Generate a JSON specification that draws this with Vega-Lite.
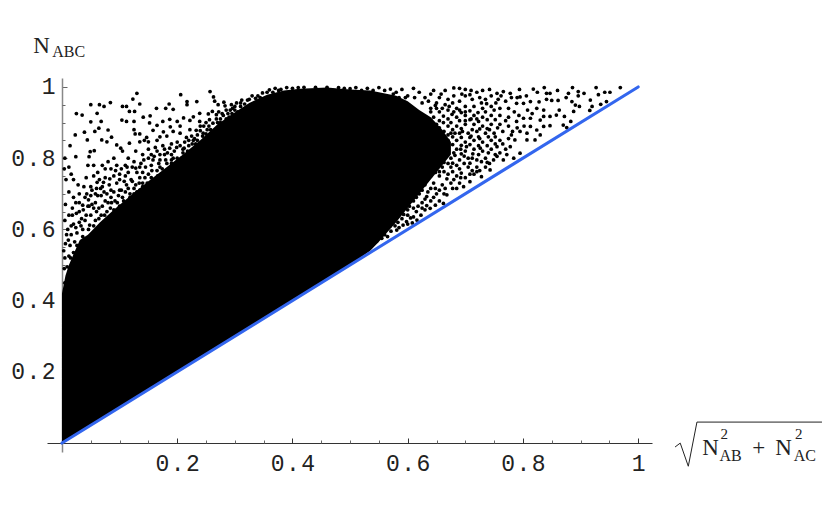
{"$schema":"https://vega.github.io/schema/vega-lite/v6.json","width":605,"height":374,"autosize":"none","padding":{"left":47,"top":78,"right":179,"bottom":67},"background":"white","view":{"stroke":null},
"resolve":{"axis":{"x":"independent","y":"independent"}},
"datasets":{"region":[{"x":0,"lo":0,"hi":0.42},{"x":0.006,"lo":0.006,"hi":0.47},{"x":0.012,"lo":0.012,"hi":0.5},{"x":0.02,"lo":0.02,"hi":0.53},{"x":0.031,"lo":0.031,"hi":0.57},{"x":0.045,"lo":0.045,"hi":0.585},{"x":0.066,"lo":0.066,"hi":0.62},{"x":0.09,"lo":0.09,"hi":0.655},{"x":0.123,"lo":0.123,"hi":0.7},{"x":0.15,"lo":0.15,"hi":0.735},{"x":0.182,"lo":0.182,"hi":0.775},{"x":0.21,"lo":0.21,"hi":0.81},{"x":0.24,"lo":0.24,"hi":0.85},{"x":0.27,"lo":0.27,"hi":0.895},{"x":0.297,"lo":0.297,"hi":0.925},{"x":0.325,"lo":0.325,"hi":0.955},{"x":0.356,"lo":0.356,"hi":0.978},{"x":0.385,"lo":0.385,"hi":0.99},{"x":0.413,"lo":0.413,"hi":0.995},{"x":0.46,"lo":0.46,"hi":0.998},{"x":0.5,"lo":0.5,"hi":0.993},{"x":0.535,"lo":0.54,"hi":0.99},{"x":0.55,"lo":0.565,"hi":0.985},{"x":0.58,"lo":0.62,"hi":0.975},{"x":0.6,"lo":0.66,"hi":0.96},{"x":0.62,"lo":0.7,"hi":0.935},{"x":0.64,"lo":0.74,"hi":0.915},{"x":0.66,"lo":0.78,"hi":0.88},{"x":0.675,"lo":0.81,"hi":0.845}],
"pts":[{"x":0.05,"y":0.95},{"x":0.065,"y":0.95},{"x":0.073,"y":0.945},{"x":0.084,"y":0.956},{"x":0.025,"y":0.925},{"x":0.035,"y":0.921},{"x":0.061,"y":0.926},{"x":0.068,"y":0.903},{"x":0.05,"y":0.902},{"x":0.064,"y":0.884},{"x":0.057,"y":0.875},{"x":0.039,"y":0.873},{"x":0.023,"y":0.865},{"x":0.08,"y":0.879},{"x":0.014,"y":0.835},{"x":0.044,"y":0.851},{"x":0.069,"y":0.851},{"x":0.078,"y":0.846},{"x":0.086,"y":0.859},{"x":0.049,"y":0.818},{"x":0.056,"y":0.821},{"x":0.024,"y":0.804},{"x":0.047,"y":0.804},{"x":0.095,"y":0.837},{"x":0.102,"y":0.828},{"x":0.117,"y":0.842},{"x":0.105,"y":0.945},{"x":0.112,"y":0.945},{"x":0.123,"y":0.966},{"x":0.13,"y":0.982},{"x":0.135,"y":0.952},{"x":0.117,"y":0.931},{"x":0.126,"y":0.931},{"x":0.104,"y":0.907},{"x":0.112,"y":0.903},{"x":0.125,"y":0.903},{"x":0.141,"y":0.915},{"x":0.153,"y":0.919},{"x":0.164,"y":0.94},{"x":0.18,"y":0.94},{"x":0.186,"y":0.952},{"x":0.193,"y":0.937},{"x":0.206,"y":0.978},{"x":0.217,"y":0.959},{"x":0.234,"y":0.959},{"x":0.217,"y":0.95},{"x":0.257,"y":0.987},{"x":0.263,"y":0.972},{"x":0.281,"y":0.957},{"x":0.271,"y":0.95},{"x":0.261,"y":0.931},{"x":0.239,"y":0.926},{"x":0.254,"y":0.924},{"x":0.228,"y":0.916},{"x":0.211,"y":0.913},{"x":0.187,"y":0.909},{"x":0.175,"y":0.903},{"x":0.2,"y":0.903},{"x":0.222,"y":0.906},{"x":0.239,"y":0.903},{"x":0.152,"y":0.899},{"x":0.165,"y":0.892},{"x":0.176,"y":0.874},{"x":0.188,"y":0.888},{"x":0.205,"y":0.89},{"x":0.222,"y":0.88},{"x":0.24,"y":0.877},{"x":0.125,"y":0.88},{"x":0.127,"y":0.868},{"x":0.135,"y":0.868},{"x":0.147,"y":0.858},{"x":0.158,"y":0.878},{"x":0.17,"y":0.86},{"x":0.182,"y":0.862},{"x":0.143,"y":0.85},{"x":0.15,"y":0.846},{"x":0.135,"y":0.846},{"x":0.165,"y":0.85},{"x":0.193,"y":0.875},{"x":0.205,"y":0.87},{"x":0.216,"y":0.858},{"x":0.228,"y":0.85},{"x":0.25,"y":0.868},{"x":0.262,"y":0.898},{"x":0.275,"y":0.91},{"x":0.285,"y":0.935},{"x":0.296,"y":0.94},{"x":0.303,"y":0.955},{"x":0.312,"y":0.963},{"x":0.322,"y":0.963},{"x":0.33,"y":0.975},{"x":0.34,"y":0.975},{"x":0.348,"y":0.983},{"x":0.352,"y":0.965},{"x":0.36,"y":0.992},{"x":0.37,"y":0.996},{"x":0.38,"y":0.993},{"x":0.39,"y":0.998},{"x":0.4,"y":0.996},{"x":0.41,"y":0.998},{"x":0.42,"y":0.999},{"x":0.44,"y":0.999},{"x":0.46,"y":0.999},{"x":0.48,"y":0.998},{"x":0.49,"y":0.996},{"x":0.5,"y":0.995},{"x":0.51,"y":0.998},{"x":0.52,"y":0.99},{"x":0.53,"y":0.996},{"x":0.54,"y":0.99},{"x":0.55,"y":0.998},{"x":0.56,"y":0.99},{"x":0.57,"y":0.994},{"x":0.58,"y":0.985},{"x":0.59,"y":0.993},{"x":0.6,"y":0.975},{"x":0.61,"y":0.996},{"x":0.62,"y":0.985},{"x":0.63,"y":0.97},{"x":0.64,"y":0.98},{"x":0.645,"y":0.99},{"x":0.655,"y":0.97},{"x":0.665,"y":0.99},{"x":0.67,"y":0.965},{"x":0.68,"y":0.997},{"x":0.69,"y":0.996},{"x":0.7,"y":0.993},{"x":0.71,"y":0.99},{"x":0.72,"y":0.985},{"x":0.73,"y":0.99},{"x":0.742,"y":0.993},{"x":0.755,"y":0.982},{"x":0.766,"y":0.987},{"x":0.778,"y":0.982},{"x":0.969,"y":0.998},{"x":0.951,"y":0.985},{"x":0.942,"y":0.985},{"x":0.927,"y":0.998},{"x":0.931,"y":0.978},{"x":0.945,"y":0.959},{"x":0.935,"y":0.951},{"x":0.917,"y":0.963},{"x":0.92,"y":0.945},{"x":0.916,"y":0.934},{"x":0.906,"y":0.982},{"x":0.896,"y":0.987},{"x":0.896,"y":0.975},{"x":0.886,"y":0.998},{"x":0.879,"y":0.982},{"x":0.875,"y":0.97},{"x":0.885,"y":0.959},{"x":0.891,"y":0.949},{"x":0.898,"y":0.945},{"x":0.888,"y":0.931},{"x":0.86,"y":0.99},{"x":0.837,"y":0.998},{"x":0.818,"y":0.994},{"x":0.794,"y":0.993},{"x":0.841,"y":0.982},{"x":0.847,"y":0.982},{"x":0.825,"y":0.985},{"x":0.861,"y":0.962},{"x":0.85,"y":0.962},{"x":0.841,"y":0.965},{"x":0.863,"y":0.935},{"x":0.858,"y":0.921},{"x":0.872,"y":0.917},{"x":0.883,"y":0.903},{"x":0.87,"y":0.893},{"x":0.876,"y":0.886},{"x":0.847,"y":0.917},{"x":0.836,"y":0.917},{"x":0.83,"y":0.907},{"x":0.847,"y":0.891},{"x":0.836,"y":0.889},{"x":0.824,"y":0.879},{"x":0.813,"y":0.889},{"x":0.807,"y":0.87},{"x":0.83,"y":0.865},{"x":0.821,"y":0.851},{"x":0.807,"y":0.851},{"x":0.795,"y":0.875},{"x":0.786,"y":0.851},{"x":0.813,"y":0.912},{"x":0.801,"y":0.912},{"x":0.789,"y":0.903},{"x":0.836,"y":0.935},{"x":0.824,"y":0.94},{"x":0.813,"y":0.959},{"x":0.801,"y":0.954},{"x":0.789,"y":0.954},{"x":0.795,"y":0.814},{"x":0.778,"y":0.832},{"x":0.784,"y":0.8},{"x":0.766,"y":0.795},{"x":0.755,"y":0.832},{"x":0.749,"y":0.795},{"x":0.743,"y":0.767},{"x":0.728,"y":0.748},{"x":0.72,"y":0.762},{"x":0.708,"y":0.734},{"x":0.697,"y":0.72},{"x":0.685,"y":0.715},{"x":0.668,"y":0.697},{"x":0.662,"y":0.673},{"x":0.639,"y":0.659},{"x":0.616,"y":0.626},{"x":0.581,"y":0.598},{"x":0.546,"y":0.566},{"x":0.78,"y":0.97},{"x":0.77,"y":0.96},{"x":0.757,"y":0.965},{"x":0.745,"y":0.975},{"x":0.735,"y":0.965},{"x":0.725,"y":0.97},{"x":0.712,"y":0.965},{"x":0.7,"y":0.975},{"x":0.69,"y":0.96},{"x":0.68,"y":0.975},{"x":0.665,"y":0.95},{"x":0.65,"y":0.955},{"x":0.64,"y":0.94},{"x":0.655,"y":0.93},{"x":0.67,"y":0.935},{"x":0.685,"y":0.94},{"x":0.7,"y":0.945},{"x":0.715,"y":0.945},{"x":0.73,"y":0.94},{"x":0.745,"y":0.945},{"x":0.76,"y":0.94},{"x":0.775,"y":0.94},{"x":0.785,"y":0.93},{"x":0.775,"y":0.915},{"x":0.76,"y":0.92},{"x":0.745,"y":0.92},{"x":0.73,"y":0.915},{"x":0.715,"y":0.92},{"x":0.7,"y":0.92},{"x":0.685,"y":0.915},{"x":0.67,"y":0.91},{"x":0.655,"y":0.905},{"x":0.645,"y":0.915},{"x":0.64,"y":0.89},{"x":0.655,"y":0.885},{"x":0.67,"y":0.89},{"x":0.685,"y":0.89},{"x":0.7,"y":0.895},{"x":0.715,"y":0.895},{"x":0.73,"y":0.89},{"x":0.745,"y":0.895},{"x":0.76,"y":0.895},{"x":0.775,"y":0.89},{"x":0.79,"y":0.885},{"x":0.765,"y":0.875},{"x":0.75,"y":0.87},{"x":0.735,"y":0.87},{"x":0.72,"y":0.875},{"x":0.705,"y":0.87},{"x":0.69,"y":0.87},{"x":0.675,"y":0.87},{"x":0.66,"y":0.865},{"x":0.645,"y":0.865},{"x":0.635,"y":0.86},{"x":0.64,"y":0.84},{"x":0.655,"y":0.845},{"x":0.67,"y":0.85},{"x":0.685,"y":0.85},{"x":0.7,"y":0.845},{"x":0.715,"y":0.85},{"x":0.73,"y":0.845},{"x":0.745,"y":0.85},{"x":0.76,"y":0.85},{"x":0.775,"y":0.855},{"x":0.77,"y":0.825},{"x":0.745,"y":0.825},{"x":0.73,"y":0.82},{"x":0.715,"y":0.825},{"x":0.7,"y":0.82},{"x":0.685,"y":0.825},{"x":0.67,"y":0.825},{"x":0.655,"y":0.82},{"x":0.64,"y":0.815},{"x":0.625,"y":0.82},{"x":0.63,"y":0.795},{"x":0.645,"y":0.795},{"x":0.66,"y":0.8},{"x":0.675,"y":0.8},{"x":0.69,"y":0.795},{"x":0.705,"y":0.8},{"x":0.72,"y":0.795},{"x":0.735,"y":0.8},{"x":0.755,"y":0.805},{"x":0.735,"y":0.775},{"x":0.72,"y":0.775},{"x":0.705,"y":0.775},{"x":0.69,"y":0.77},{"x":0.675,"y":0.775},{"x":0.66,"y":0.775},{"x":0.645,"y":0.77},{"x":0.63,"y":0.77},{"x":0.615,"y":0.775},{"x":0.61,"y":0.75},{"x":0.625,"y":0.75},{"x":0.64,"y":0.75},{"x":0.655,"y":0.75},{"x":0.67,"y":0.755},{"x":0.685,"y":0.75},{"x":0.7,"y":0.745},{"x":0.715,"y":0.755},{"x":0.6,"y":0.725},{"x":0.615,"y":0.725},{"x":0.63,"y":0.725},{"x":0.645,"y":0.73},{"x":0.66,"y":0.725},{"x":0.675,"y":0.73},{"x":0.69,"y":0.73},{"x":0.59,"y":0.7},{"x":0.605,"y":0.7},{"x":0.62,"y":0.7},{"x":0.635,"y":0.705},{"x":0.65,"y":0.7},{"x":0.665,"y":0.715},{"x":0.58,"y":0.675},{"x":0.595,"y":0.675},{"x":0.61,"y":0.68},{"x":0.625,"y":0.675},{"x":0.64,"y":0.68},{"x":0.655,"y":0.68},{"x":0.57,"y":0.65},{"x":0.585,"y":0.65},{"x":0.6,"y":0.655},{"x":0.615,"y":0.65},{"x":0.63,"y":0.655},{"x":0.56,"y":0.625},{"x":0.575,"y":0.63},{"x":0.59,"y":0.63},{"x":0.605,"y":0.632},{"x":0.552,"y":0.6},{"x":0.565,"y":0.605},{"x":0.578,"y":0.61},{"x":0.592,"y":0.612},{"x":0.56,"y":0.585},{"x":0.571,"y":0.595},{"x":0.005,"y":0.8},{"x":0.012,"y":0.775},{"x":0.004,"y":0.77},{"x":0.016,"y":0.755},{"x":0.007,"y":0.74},{"x":0.02,"y":0.74},{"x":0.028,"y":0.725},{"x":0.038,"y":0.72},{"x":0.05,"y":0.72},{"x":0.062,"y":0.76},{"x":0.07,"y":0.78},{"x":0.08,"y":0.79},{"x":0.09,"y":0.8},{"x":0.105,"y":0.82},{"x":0.115,"y":0.8},{"x":0.128,"y":0.82},{"x":0.14,"y":0.81},{"x":0.15,"y":0.825},{"x":0.162,"y":0.83},{"x":0.175,"y":0.835},{"x":0.19,"y":0.84},{"x":0.205,"y":0.835},{"x":0.22,"y":0.835},{"x":0.235,"y":0.85},{"x":0.25,"y":0.84},{"x":0.045,"y":0.78},{"x":0.055,"y":0.78},{"x":0.075,"y":0.77},{"x":0.085,"y":0.77},{"x":0.095,"y":0.78},{"x":0.11,"y":0.78},{"x":0.125,"y":0.79},{"x":0.137,"y":0.785},{"x":0.15,"y":0.8},{"x":0.16,"y":0.805},{"x":0.17,"y":0.81},{"x":0.183,"y":0.815},{"x":0.195,"y":0.82},{"x":0.21,"y":0.815},{"x":0.03,"y":0.7},{"x":0.042,"y":0.745},{"x":0.055,"y":0.75},{"x":0.065,"y":0.74},{"x":0.075,"y":0.745},{"x":0.09,"y":0.75},{"x":0.1,"y":0.755},{"x":0.115,"y":0.76},{"x":0.13,"y":0.76},{"x":0.145,"y":0.775},{"x":0.155,"y":0.78},{"x":0.168,"y":0.785},{"x":0.18,"y":0.795},{"x":0.193,"y":0.8},{"x":0.012,"y":0.705},{"x":0.02,"y":0.69},{"x":0.03,"y":0.675},{"x":0.04,"y":0.69},{"x":0.05,"y":0.695},{"x":0.06,"y":0.715},{"x":0.07,"y":0.72},{"x":0.082,"y":0.725},{"x":0.095,"y":0.73},{"x":0.108,"y":0.735},{"x":0.12,"y":0.74},{"x":0.135,"y":0.745},{"x":0.15,"y":0.755},{"x":0.165,"y":0.765},{"x":0.006,"y":0.67},{"x":0.018,"y":0.66},{"x":0.025,"y":0.645},{"x":0.037,"y":0.655},{"x":0.047,"y":0.665},{"x":0.058,"y":0.675},{"x":0.068,"y":0.695},{"x":0.078,"y":0.7},{"x":0.09,"y":0.705},{"x":0.103,"y":0.71},{"x":0.115,"y":0.715},{"x":0.128,"y":0.725},{"x":0.14,"y":0.73},{"x":0.005,"y":0.625},{"x":0.012,"y":0.64},{"x":0.02,"y":0.615},{"x":0.03,"y":0.62},{"x":0.04,"y":0.625},{"x":0.05,"y":0.64},{"x":0.06,"y":0.65},{"x":0.07,"y":0.665},{"x":0.08,"y":0.675},{"x":0.092,"y":0.68},{"x":0.105,"y":0.69},{"x":0.118,"y":0.7},{"x":0.01,"y":0.6},{"x":0.016,"y":0.585},{"x":0.026,"y":0.59},{"x":0.036,"y":0.6},{"x":0.048,"y":0.612},{"x":0.058,"y":0.625},{"x":0.068,"y":0.64},{"x":0.078,"y":0.65},{"x":0.09,"y":0.655},{"x":0.1,"y":0.665},{"x":0.006,"y":0.56},{"x":0.014,"y":0.555},{"x":0.022,"y":0.565},{"x":0.005,"y":0.52},{"x":0.012,"y":0.525},{"x":0.02,"y":0.535},{"x":0.004,"y":0.49},{"x":0.009,"y":0.495},{"x":0.005,"y":0.45},{"x":0.265,"y":0.96},{"x":0.272,"y":0.93},{"x":0.28,"y":0.92},{"x":0.29,"y":0.915},{"x":0.27,"y":0.9},{"x":0.258,"y":0.88},{"x":0.27,"y":0.885},{"x":0.28,"y":0.895},{"x":0.235,"y":0.865},{"x":0.248,"y":0.855},{"x":0.258,"y":0.855},{"x":0.265,"y":0.87},{"x":0.24,"y":0.84},{"x":0.23,"y":0.825},{"x":0.215,"y":0.8},{"x":0.205,"y":0.785},{"x":0.195,"y":0.78},{"x":0.185,"y":0.77},{"x":0.172,"y":0.755},{"x":0.16,"y":0.74},{"x":0.148,"y":0.73},{"x":0.135,"y":0.71},{"x":0.125,"y":0.7},{"x":0.31,"y":0.945},{"x":0.32,"y":0.94},{"x":0.33,"y":0.95},{"x":0.34,"y":0.96},{"x":0.295,"y":0.925},{"x":0.305,"y":0.93},{"x":0.315,"y":0.925},{"x":0.648,"y":0.948},{"x":0.662,"y":0.918},{"x":0.677,"y":0.923},{"x":0.693,"y":0.928},{"x":0.708,"y":0.933},{"x":0.722,"y":0.928},{"x":0.737,"y":0.953},{"x":0.752,"y":0.908},{"x":0.663,"y":0.875},{"x":0.678,"y":0.88},{"x":0.693,"y":0.883},{"x":0.708,"y":0.908},{"x":0.723,"y":0.903},{"x":0.738,"y":0.908},{"x":0.648,"y":0.855},{"x":0.663,"y":0.838},{"x":0.678,"y":0.86},{"x":0.693,"y":0.858},{"x":0.708,"y":0.858},{"x":0.723,"y":0.86},{"x":0.738,"y":0.883},{"x":0.648,"y":0.828},{"x":0.663,"y":0.812},{"x":0.678,"y":0.838},{"x":0.693,"y":0.836},{"x":0.708,"y":0.838},{"x":0.723,"y":0.835},{"x":0.738,"y":0.835},{"x":0.633,"y":0.785},{"x":0.648,"y":0.785},{"x":0.663,"y":0.788},{"x":0.678,"y":0.786},{"x":0.693,"y":0.812},{"x":0.708,"y":0.786},{"x":0.723,"y":0.81},{"x":0.738,"y":0.788},{"x":0.618,"y":0.762},{"x":0.633,"y":0.738},{"x":0.648,"y":0.76},{"x":0.663,"y":0.762},{"x":0.678,"y":0.762},{"x":0.693,"y":0.758},{"x":0.708,"y":0.755},{"x":0.603,"y":0.712},{"x":0.618,"y":0.714},{"x":0.633,"y":0.692},{"x":0.648,"y":0.715},{"x":0.663,"y":0.7},{"x":0.678,"y":0.715},{"x":0.588,"y":0.688},{"x":0.603,"y":0.665},{"x":0.618,"y":0.665},{"x":0.633,"y":0.667},{"x":0.648,"y":0.668},{"x":0.578,"y":0.64},{"x":0.593,"y":0.642},{"x":0.608,"y":0.618},{"x":0.623,"y":0.64},{"x":0.568,"y":0.618},{"x":0.583,"y":0.62},{"x":0.598,"y":0.622},{"x":0.555,"y":0.575},{"x":0.565,"y":0.58},{"x":0.538,"y":0.555},{"x":0.525,"y":0.54},{"x":0.51,"y":0.522},{"x":0.475,"y":0.49},{"x":0.441,"y":0.452},{"x":0.39,"y":0.402},{"x":0.77,"y":0.905},{"x":0.782,"y":0.875},{"x":0.793,"y":0.92},{"x":0.802,"y":0.89},{"x":0.78,"y":0.865},{"x":0.765,"y":0.84},{"x":0.752,"y":0.81},{"x":0.76,"y":0.815},{"x":0.772,"y":0.81},{"x":0.808,"y":0.935},{"x":0.816,"y":0.925},{"x":0.795,"y":0.972},{"x":0.806,"y":0.975},{"x":0.828,"y":0.958},{"x":0.79,"y":0.97},{"x":0.753,"y":0.955},{"x":0.762,"y":0.975},{"x":0.728,"y":0.955},{"x":0.708,"y":0.978},{"x":0.694,"y":0.98},{"x":0.678,"y":0.955},{"x":0.658,"y":0.98},{"x":0.636,"y":0.96},{"x":0.625,"y":0.955},{"x":0.612,"y":0.97},{"x":0.596,"y":0.97},{"x":0.585,"y":0.97},{"x":0.575,"y":0.98},{"x":0.062,"y":0.695},{"x":0.052,"y":0.67},{"x":0.042,"y":0.64},{"x":0.034,"y":0.63},{"x":0.024,"y":0.605},{"x":0.016,"y":0.61},{"x":0.008,"y":0.585},{"x":0.003,"y":0.54},{"x":0.015,"y":0.52},{"x":0.026,"y":0.555},{"x":0.036,"y":0.58},{"x":0.046,"y":0.6},{"x":0.055,"y":0.61},{"x":0.064,"y":0.63},{"x":0.074,"y":0.64},{"x":0.084,"y":0.66},{"x":0.096,"y":0.675},{"x":0.11,"y":0.705},{"x":0.098,"y":0.695},{"x":0.112,"y":0.725},{"x":0.125,"y":0.715},{"x":0.122,"y":0.735},{"x":0.134,"y":0.73},{"x":0.144,"y":0.745},{"x":0.156,"y":0.765},{"x":0.166,"y":0.75},{"x":0.174,"y":0.77},{"x":0.182,"y":0.785},{"x":0.19,"y":0.795},{"x":0.2,"y":0.8},{"x":0.208,"y":0.8},{"x":0.218,"y":0.82},{"x":0.226,"y":0.84},{"x":0.232,"y":0.84},{"x":0.244,"y":0.862},{"x":0.252,"y":0.88},{"x":0.26,"y":0.87},{"x":0.268,"y":0.91},{"x":0.278,"y":0.925},{"x":0.288,"y":0.925},{"x":0.3,"y":0.945},{"x":0.31,"y":0.955},{"x":0.325,"y":0.965},{"x":0.336,"y":0.968},{"x":0.344,"y":0.97},{"x":0.356,"y":0.985},{"x":0.366,"y":0.985},{"x":0.376,"y":0.99},{"x":0.1,"y":0.71},{"x":0.085,"y":0.69},{"x":0.073,"y":0.705},{"x":0.085,"y":0.71},{"x":0.1,"y":0.74},{"x":0.11,"y":0.75},{"x":0.122,"y":0.775},{"x":0.135,"y":0.775},{"x":0.14,"y":0.76},{"x":0.158,"y":0.795},{"x":0.17,"y":0.795},{"x":0.178,"y":0.81},{"x":0.19,"y":0.81},{"x":0.2,"y":0.845},{"x":0.213,"y":0.845},{"x":0.22,"y":0.85},{"x":0.24,"y":0.89},{"x":0.25,"y":0.9},{"x":0.03,"y":0.65},{"x":0.043,"y":0.7},{"x":0.058,"y":0.7},{"x":0.067,"y":0.715},{"x":0.045,"y":0.665},{"x":0.055,"y":0.66},{"x":0.018,"y":0.64},{"x":0.033,"y":0.61},{"x":0.011,"y":0.57},{"x":0.024,"y":0.675},{"x":0.036,"y":0.668},{"x":0.046,"y":0.683},{"x":0.052,"y":0.71},{"x":0.061,"y":0.732},{"x":0.072,"y":0.732},{"x":0.083,"y":0.742},{"x":0.093,"y":0.765},{"x":0.103,"y":0.77},{"x":0.113,"y":0.775},{"x":0.128,"y":0.772},{"x":0.142,"y":0.795},{"x":0.155,"y":0.81},{"x":0.165,"y":0.82},{"x":0.178,"y":0.825},{"x":0.187,"y":0.828},{"x":0.199,"y":0.83},{"x":0.212,"y":0.828},{"x":0.225,"y":0.862},{"x":0.233,"y":0.878},{"x":0.246,"y":0.89},{"x":0.256,"y":0.908},{"x":0.268,"y":0.922},{"x":0.283,"y":0.947},{"x":0.294,"y":0.95},{"x":0.064,"y":0.66},{"x":0.075,"y":0.68},{"x":0.086,"y":0.675},{"x":0.107,"y":0.68},{"x":0.118,"y":0.69},{"x":0.13,"y":0.705},{"x":0.14,"y":0.72},{"x":0.155,"y":0.745},{"x":0.17,"y":0.775},{"x":0.19,"y":0.785},{"x":0.2,"y":0.79},{"x":0.21,"y":0.825},{"x":0.23,"y":0.855},{"x":0.245,"y":0.87},{"x":0.255,"y":0.89},{"x":0.275,"y":0.9},{"x":0.285,"y":0.91},{"x":0.292,"y":0.935},{"x":0.3,"y":0.935},{"x":0.317,"y":0.952},{"x":0.64,"y":0.93},{"x":0.65,"y":0.94},{"x":0.66,"y":0.94},{"x":0.672,"y":0.945},{"x":0.68,"y":0.93},{"x":0.69,"y":0.935},{"x":0.7,"y":0.93},{"x":0.71,"y":0.91},{"x":0.72,"y":0.91},{"x":0.735,"y":0.93},{"x":0.75,"y":0.935},{"x":0.64,"y":0.905},{"x":0.65,"y":0.895},{"x":0.662,"y":0.9},{"x":0.675,"y":0.9},{"x":0.69,"y":0.905},{"x":0.7,"y":0.905},{"x":0.712,"y":0.88},{"x":0.725,"y":0.882},{"x":0.742,"y":0.88},{"x":0.756,"y":0.885},{"x":0.66,"y":0.855},{"x":0.67,"y":0.865},{"x":0.682,"y":0.87},{"x":0.695,"y":0.875},{"x":0.71,"y":0.862},{"x":0.725,"y":0.855},{"x":0.74,"y":0.86},{"x":0.752,"y":0.86},{"x":0.668,"y":0.835},{"x":0.68,"y":0.815},{"x":0.692,"y":0.825},{"x":0.702,"y":0.832},{"x":0.713,"y":0.812},{"x":0.726,"y":0.828},{"x":0.74,"y":0.815},{"x":0.752,"y":0.84},{"x":0.64,"y":0.8},{"x":0.652,"y":0.805},{"x":0.668,"y":0.812},{"x":0.682,"y":0.808},{"x":0.698,"y":0.806},{"x":0.712,"y":0.8},{"x":0.728,"y":0.79},{"x":0.742,"y":0.785},{"x":0.62,"y":0.785},{"x":0.635,"y":0.775},{"x":0.652,"y":0.78},{"x":0.67,"y":0.785},{"x":0.685,"y":0.78},{"x":0.698,"y":0.785},{"x":0.712,"y":0.765},{"x":0.725,"y":0.765},{"x":0.605,"y":0.74},{"x":0.62,"y":0.735},{"x":0.638,"y":0.76},{"x":0.655,"y":0.762},{"x":0.668,"y":0.742},{"x":0.68,"y":0.74},{"x":0.692,"y":0.745},{"x":0.595,"y":0.71},{"x":0.61,"y":0.715},{"x":0.625,"y":0.71},{"x":0.64,"y":0.715},{"x":0.655,"y":0.71},{"x":0.585,"y":0.665},{"x":0.6,"y":0.688},{"x":0.615,"y":0.69},{"x":0.63,"y":0.685},{"x":0.645,"y":0.69},{"x":0.573,"y":0.665},{"x":0.592,"y":0.66},{"x":0.61,"y":0.66},{"x":0.625,"y":0.66},{"x":0.565,"y":0.64},{"x":0.58,"y":0.635},{"x":0.6,"y":0.64},{"x":0.61,"y":0.635},{"x":0.57,"y":0.61},{"x":0.585,"y":0.605},{"x":0.6,"y":0.615}],
"diag":[{"x":0,"y":0},{"x":1,"y":1}],
"radical":[{"x":1.064,"y":-0.011,"o":1},{"x":1.073,"y":0,"o":2},{"x":1.087,"y":-0.065,"o":3},{"x":1.102,"y":0.059,"o":4},{"x":1.319,"y":0.059,"o":5}]},
"layer":[
{"data":{"name":"region"},"mark":{"type":"area","color":"black"},"encoding":{"x":{"field":"x","type":"quantitative","scale":{"domain":[-0.026,1.024],"nice":false,"zero":false},"axis":{"orient":"bottom","values":[0.2,0.4,0.6,0.8,1],"offset":-9,"title":null,"grid":false,"domainColor":"#333","tickColor":"#333","tickSize":-5,"labelPadding":14,"labelFont":"Liberation Mono","labelFontSize":23,"labelColor":"#222","labelFlush":false,"labelOverlap":false,"labelBound":false,"labelExpr":"datum.value==1?'1':replace(format(datum.value,'.1f'),'.','\u200a.\u200a')"}},"y":{"field":"lo","type":"quantitative","scale":{"domain":[-0.025,1.025],"nice":false,"zero":false},"axis":{"orient":"left","values":[0.2,0.4,0.6,0.8,1],"offset":-15,"title":null,"grid":false,"domainColor":"#888","domainWidth":1.5,"tickColor":"#666","tickSize":-5,"labelPadding":12,"labelFont":"Liberation Mono","labelFontSize":23,"labelColor":"#222","labelOverlap":false,"labelBound":false,"labelFlush":false,"labelExpr":"datum.value==1?'1':replace(format(datum.value,'.1f'),'.','\u200a.\u200a')"}},"y2":{"field":"hi"}}},
{"data":{"name":"pts"},"mark":{"type":"circle","color":"black","opacity":1,"size":14},"encoding":{"x":{"field":"x","type":"quantitative","axis":{"orient":"bottom","values":[0.05,0.1,0.15,0.25,0.3,0.35,0.45,0.5,0.55,0.65,0.7,0.75,0.85,0.9,0.95],"offset":-9,"title":null,"grid":false,"domain":false,"labels":false,"tickColor":"#666","tickSize":-3}},"y":{"field":"y","type":"quantitative","axis":{"orient":"left","values":[0.05,0.1,0.15,0.25,0.3,0.35,0.45,0.5,0.55,0.65,0.7,0.75,0.85,0.9,0.95],"offset":-15,"title":null,"grid":false,"domain":false,"labels":false,"tickColor":"#666","tickSize":-3}}}},
{"data":{"name":"diag"},"mark":{"type":"line","color":"#3366ee","strokeWidth":3,"strokeCap":"round"},"encoding":{"x":{"field":"x","type":"quantitative","axis":null},"y":{"field":"y","type":"quantitative","axis":null}}},
{"data":{"name":"radical"},"mark":{"type":"line","color":"#222","strokeWidth":1,"clip":false},"encoding":{"x":{"field":"x","type":"quantitative","axis":null},"y":{"field":"y","type":"quantitative","axis":null},"order":{"field":"o"}}},
{"data":{"values":[{"x":-0.05,"y":1.096,"t":"N"},{"x":1.111,"y":-0.034,"t":"N"},{"x":1.238,"y":-0.034,"t":"N"},{"x":1.198,"y":-0.034,"t":"+"}]},"mark":{"type":"text","font":"Liberation Serif","fontSize":23,"align":"left","baseline":"alphabetic","color":"#222"},"encoding":{"x":{"field":"x","type":"quantitative","axis":null},"y":{"field":"y","type":"quantitative","axis":null},"text":{"field":"t"}}},
{"data":{"values":[{"x":-0.017,"y":1.084,"t":"ABC"},{"x":1.141,"y":-0.05,"t":"AB"},{"x":1.27,"y":-0.05,"t":"AC"}]},"mark":{"type":"text","font":"Liberation Serif","fontSize":16,"align":"left","baseline":"alphabetic","color":"#222"},"encoding":{"x":{"field":"x","type":"quantitative","axis":null},"y":{"field":"y","type":"quantitative","axis":null},"text":{"field":"t"}}},
{"data":{"values":[{"x":1.143,"y":0.011,"t":"2"},{"x":1.272,"y":0.011,"t":"2"}]},"mark":{"type":"text","font":"Liberation Serif","fontSize":15,"align":"left","baseline":"alphabetic","color":"#222"},"encoding":{"x":{"field":"x","type":"quantitative","axis":null},"y":{"field":"y","type":"quantitative","axis":null},"text":{"field":"t"}}}
]}
